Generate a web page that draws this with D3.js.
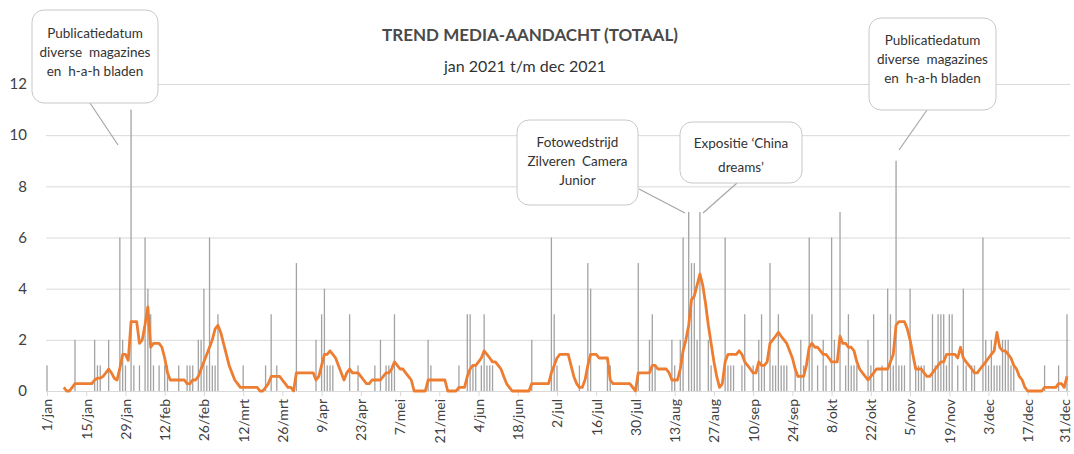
<!DOCTYPE html>
<html>
<head>
<meta charset="utf-8">
<script src="https://d3js.org/d3.v7.min.js"></script>
<style>
  body { margin: 0; background: #fff; }
  #vis text { font-family: Lato, "Open Sans", sans-serif; }
</style>
</head>
<body>
<div id="vis"></div>
<script>
// media mentions per day, 1 jan .. 31 dec 2021 (one row = 14 days)
let counts = [
  1,0,0,0,0,0,0,0,0,0,2,0,0,0,
  0,0,0,2,1,1,0,0,2,0,0,0,6,2,
  1,0,11,1,0,1,0,6,4,3,1,0,1,0,
  1,1,0,0,0,1,0,0,1,1,1,0,2,2,
  4,1,6,1,1,3,0,0,0,0,0,0,0,0,
  1,0,0,0,0,0,0,0,1,0,3,0,1,0,
  0,0,0,0,0,5,0,0,0,0,0,0,2,0,
  3,4,1,1,1,0,0,0,0,0,3,0,0,1,
  0,0,0,0,0,1,0,2,0,1,1,1,3,0,
  0,0,0,0,0,0,0,0,0,0,2,1,0,0,
  0,0,0,0,0,0,0,1,0,0,3,3,1,1,
  0,1,3,1,1,1,0,0,0,0,0,0,0,0,
  0,0,0,0,0,2,0,0,0,0,0,0,6,3,
  1,0,0,0,0,0,0,0,1,0,0,5,4,0,
  0,0,0,0,1,1,0,0,0,0,0,0,0,0,
  0,5,0,0,0,2,3,1,0,0,0,0,0,2,
  1,0,2,6,0,7,5,5,2,7,0,0,2,1,
  0,0,0,0,6,1,1,1,0,0,1,3,0,0,
  1,0,2,3,1,0,5,1,1,3,1,1,1,0,
  0,1,0,2,1,0,6,3,0,1,0,2,1,0,
  6,2,0,7,0,1,3,1,1,1,0,0,0,2,
  1,3,0,0,1,0,4,3,1,9,1,1,1,0,
  4,0,1,1,1,1,0,0,3,1,3,3,3,1,
  3,3,0,1,0,4,1,0,1,1,0,0,6,2,
  1,2,1,1,1,2,2,2,1,1,0,0,0,0,
  0,0,0,0,0,0,1,0,0,0,0,1,0,0,
  3
];

// orange trend line, read per day from the picture
let trend = [
  null,null,null,null,null,null,0.14,0,0,0.14,0.29,0.29,0.29,0.29,
  0.29,0.29,0.29,0.43,0.5,0.5,0.57,0.71,0.86,0.71,0.5,0.43,0.9,1.43,
  1.43,1.2,2.71,2.71,2.71,1.86,2.0,2.6,3.29,1.71,1.86,1.86,1.86,1.71,
  1.29,0.71,0.43,0.43,0.43,0.43,0.43,0.43,0.29,0.29,0.43,0.43,0.57,0.86,
  1.14,1.43,1.71,2.0,2.43,2.57,2.29,1.86,1.43,1.0,0.71,0.43,0.29,0.14,
  0.14,0.14,0.14,0.14,0.14,0.14,0,0,0.14,0.29,0.57,0.57,0.57,0.57,
  0.43,0.29,0.14,0.14,0,0.71,0.71,0.71,0.71,0.71,0.71,0.71,0.43,0.57,
  1.0,1.43,1.43,1.57,1.43,1.29,1.0,0.71,0.43,0.71,0.86,0.71,0.71,0.71,
  0.57,0.43,0.29,0.29,0.43,0.43,0.43,0.43,0.57,0.71,0.71,0.86,1.14,1.0,
  0.86,0.86,0.71,0.57,0.43,0,0,0,0,0,0.43,0.43,0.43,0.43,
  0.43,0.43,0.43,0,0,0,0,0.14,0.14,0.14,0.57,0.86,1.0,1.0,
  1.14,1.29,1.57,1.43,1.29,1.14,1.14,1.0,0.86,0.57,0.29,0.14,0,0,
  0,0,0,0,0,0.29,0.29,0.29,0.29,0.29,0.29,0.29,0.71,1.0,
  1.29,1.43,1.43,1.43,1.43,1.0,0.57,0.29,0.14,0.14,0.43,1.0,1.43,1.43,
  1.43,1.29,1.29,1.29,1.29,0.43,0.29,0.29,0.29,0.29,0.29,0.29,0.29,0.14,
  0,0.71,0.71,0.71,0.71,0.71,1.0,1.0,0.86,0.86,0.86,0.86,0.71,0.43,
  0.43,0.43,0.86,1.57,2.0,2.57,3.57,3.71,4.14,4.57,4.14,3.43,2.57,1.86,
  1.14,0.57,0.14,0.29,1.14,1.43,1.43,1.43,1.43,1.57,1.43,1.14,1.0,0.86,
  0.71,0.71,1.14,1.0,1.0,1.14,1.86,2.0,2.14,2.29,2.14,2.0,1.86,1.57,
  1.29,0.86,0.57,0.57,0.57,1.0,1.71,1.86,1.71,1.71,1.57,1.43,1.43,1.29,
  1.14,1.14,1.14,2.14,1.86,1.86,1.71,1.71,1.57,1.14,0.86,0.71,0.57,0.43,
  0.57,0.71,0.86,0.86,0.86,0.86,0.86,1.14,1.43,2.57,2.71,2.71,2.71,2.43,
  2.0,1.43,0.86,0.86,0.86,0.71,0.57,0.57,0.71,0.86,1.0,1.14,1.14,1.43,
  1.43,1.43,1.43,1.29,1.71,1.29,1.14,1.0,0.86,0.71,0.71,0.86,1.0,1.14,
  1.29,1.43,1.57,2.29,1.71,1.57,1.57,1.43,1.29,1.0,0.86,0.57,0.43,0.14,
  0,0,0,0,0,0,0.14,0.14,0.14,0.14,0.14,0.29,0.29,0.14,
  0.57
];

// x axis labels every 14 days
let tickDays = [0,14,28,42,56,70,84,98,112,126,140,154,168,182,196,210,224,238,252,266,280,294,308,322,336,350,364];
let tickLabels = ['1/jan','15/jan','29/jan','12/feb','26/feb','12/mrt','26/mrt','9/apr','23/apr','7/mei','21/mei','4/jun','18/jun',
  '2/jul','16/jul','30/jul','13/aug','27/aug','10/sep','24/sep','8/okt','22/okt','5/nov','19/nov','3/dec','17/dec','31/dec'];
let yTicks = [0,2,4,6,8,10,12];

// callout texts
let notes = [
  ['Publicatiedatum', 'diverse  magazines', 'en  h-a-h bladen'],
  ['Fotowedstrijd', 'Zilveren  Camera', 'Junior'],
  ['Expositie \u2018China', 'dreams\u2019'],
  ['Publicatiedatum', 'diverse  magazines', 'en  h-a-h bladen']
];

let W = 1074, H = 454;

let svg = d3.select('#vis')
  .append('svg')
  .attr('width', W)
  .attr('height', H)
  .attr('viewBox', [0, 0, W, H].join(' '))
  .style('background-color', 'white');

let x = d3.scaleLinear().domain([0, 364]).range([47, 1067]);
let y = d3.scaleLinear().domain([0, 12]).range([391, 84]);

// gridlines + y labels
let yAxis = svg.append('g')
  .attr('transform', 'translate(46,0)')
  .call(d3.axisLeft(y).tickValues(yTicks).tickSize(-1024).tickPadding(19));
yAxis.select('.domain').remove();
yAxis.selectAll('line').attr('stroke', '#d9d9d9').attr('stroke-width', 1);
yAxis.selectAll('text')
  .attr('fill', '#404040')
  .style('font-size', '15px');

// x axis
let xAxis = svg.append('g')
  .attr('transform', 'translate(0,391)')
  .call(d3.axisBottom(x).tickValues(tickDays).tickSize(5)
    .tickFormat((d, i) => tickLabels[i]));
xAxis.select('.domain').remove();
xAxis.selectAll('line').attr('stroke', '#d9d9d9');
xAxis.selectAll('text')
  .attr('transform', 'rotate(-90)')
  .attr('text-anchor', 'end')
  .attr('x', -8)
  .attr('y', (d, i) => i === tickDays.length - 1 ? -2 : 0)
  .attr('dy', '0.35em')
  .attr('fill', '#404040')
  .style('font-size', '14px');

// daily bars
svg.append('g')
  .selectAll('rect')
  .data(counts.map((v, i) => ({ day: i, v: v })).filter(d => d.v > 0))
  .join('rect')
  .attr('x', d => x(d.day) - 0.65)
  .attr('width', 1.3)
  .attr('y', d => y(d.v))
  .attr('height', d => y(0) - y(d.v))
  .attr('fill', '#a3a3a3');

// trend line
let line = d3.line()
  .defined(d => d != null)
  .x((d, i) => x(i))
  .y(d => y(d));

svg.append('path')
  .datum(trend)
  .attr('d', line)
  .attr('fill', 'none')
  .attr('stroke', '#ED7D31')
  .attr('stroke-width', 2.8)
  .attr('stroke-linejoin', 'round');

// titles
svg.append('text')
  .attr('x', 530).attr('y', 41)
  .attr('text-anchor', 'middle')
  .attr('fill', '#4a4a4a')
  .style('font-size', '17px')
  .style('font-weight', 'bold')
  .text('TREND MEDIA-AANDACHT (TOTAAL)');

svg.append('text')
  .attr('x', 525).attr('y', 72)
  .attr('text-anchor', 'middle')
  .attr('fill', '#333')
  .style('font-size', '16px')
  .text('jan 2021 t/m dec 2021');

// callouts: box, pointer, lines of text
let boxes = [
  { x: 32, y: 10, w: 126, h: 93, ty: [33, 52, 71], p: [90, 103, 118, 145] },
  { x: 517, y: 120, w: 121, h: 85, ty: [142, 161, 180], p: [639, 189, 685, 213] },
  { x: 680, y: 122, w: 122, h: 61, ty: [143, 167], p: [737, 183, 703, 213] },
  { x: 869, y: 18, w: 127, h: 92, ty: [40, 59, 78], p: [927, 110, 899, 150] }
];

boxes.forEach(function(b, k) {
  svg.append('line')
    .attr('x1', b.p[0]).attr('y1', b.p[1])
    .attr('x2', b.p[2]).attr('y2', b.p[3])
    .attr('stroke', '#a6a6a6')
    .attr('stroke-width', 1.2);
  svg.append('rect')
    .attr('x', b.x).attr('y', b.y)
    .attr('width', b.w).attr('height', b.h)
    .attr('rx', 12)
    .attr('fill', 'white')
    .attr('stroke', '#c8c8c8');
  notes[k].forEach(function(t, j) {
    svg.append('text')
      .attr('x', b.x + b.w / 2)
      .attr('y', b.ty[j])
      .attr('dy', '0.35em')
      .attr('text-anchor', 'middle')
      .attr('fill', '#333')
      .style('font-size', '13.5px')
      .style('white-space', 'pre')
      .text(t);
  });
});
</script>
</body>
</html>
